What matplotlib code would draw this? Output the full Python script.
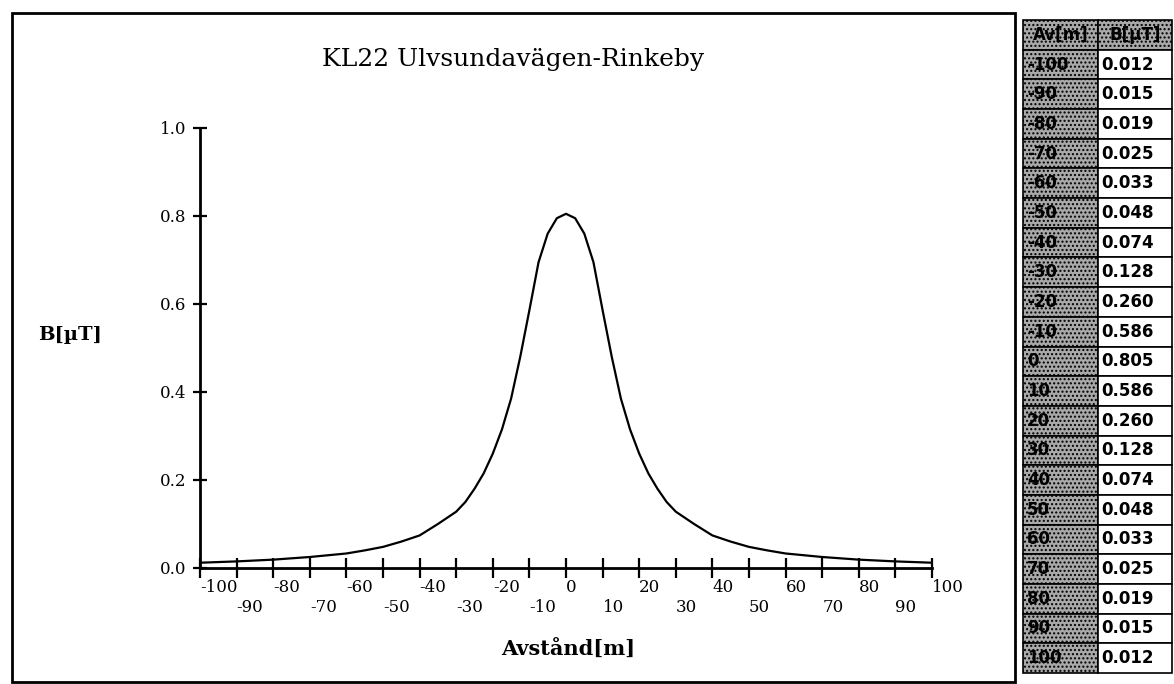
import numpy as np
import matplotlib
matplotlib.use("Agg")
import matplotlib.pyplot as plt

# table values (left panel of the picture)
dist = [-100, -90, -80, -70, -60, -50, -40, -30, -20, -10, 0,
        10, 20, 30, 40, 50, 60, 70, 80, 90, 100]
field = [0.012, 0.015, 0.019, 0.025, 0.033, 0.048, 0.074, 0.128, 0.260, 0.586, 0.805,
         0.586, 0.260, 0.128, 0.074, 0.048, 0.033, 0.025, 0.019, 0.015, 0.012]

# curve (table points plus readings in between)
curve_x = [-100, -90, -80, -70, -60, -55, -50, -45, -40, -35, -30, -27.5, -25, -22.5, -20,
           -17.5, -15, -12.5, -10, -7.5, -5, -2.5, 0, 2.5, 5, 7.5, 10, 12.5, 15, 17.5,
           20, 22.5, 25, 27.5, 30, 35, 40, 45, 50, 55, 60, 70, 80, 90, 100]
curve_b = [0.012, 0.015, 0.019, 0.025, 0.033, 0.040, 0.048, 0.060, 0.074, 0.10, 0.128, 0.15,
           0.18, 0.215, 0.260, 0.315, 0.385, 0.48, 0.586, 0.695, 0.76, 0.795, 0.805, 0.795,
           0.76, 0.695, 0.586, 0.48, 0.385, 0.315, 0.260, 0.215, 0.18, 0.15, 0.128, 0.10,
           0.074, 0.060, 0.048, 0.040, 0.033, 0.025, 0.019, 0.015, 0.012]

title = "KL22 Ulvsundavägen-Rinkeby"
W, H = 1174, 684

fig = plt.figure(figsize=(W / 100, H / 100), dpi=100)
fig.patch.set_facecolor("white")

ax = fig.add_axes([200 / W, 1 - 568 / H, 732 / W, 440 / H])
ax.plot(curve_x, curve_b, color="black", lw=1.6)
ax.set_xlim(-100, 100)
ax.set_ylim(0, 1.0)
for s in ["top", "right"]:
    ax.spines[s].set_visible(False)
for s in ["left", "bottom"]:
    ax.spines[s].set_linewidth(2)

ax.set_xticks(dist)
ax.set_xticklabels([str(v) if i % 2 == 0 else "\n" + str(v) for i, v in enumerate(dist)],
                   family="DejaVu Serif", fontsize=12, ha="left")
ax.tick_params(axis="x", direction="inout", length=14, width=1.6, pad=1)
yt = [0.0, 0.2, 0.4, 0.6, 0.8, 1.0]
ax.set_yticks(yt)
ax.set_yticklabels(["%.1f" % v for v in yt], family="DejaVu Serif", fontsize=12)
ax.tick_params(axis="y", direction="inout", length=10, width=1.6, pad=5)

ax.text(0.428, 1.155, title, transform=ax.transAxes, ha="center", va="center",
        family="DejaVu Serif", fontsize=18)
ax.text(-0.178, 0.53, "B[µT]", transform=ax.transAxes, ha="center", va="center",
        family="DejaVu Serif", fontsize=14, fontweight="bold")
ax.text(0.503, -0.186, "Avstånd[m]", transform=ax.transAxes, ha="center", va="center",
        family="DejaVu Serif", fontsize=15, fontweight="bold")

# outer frame
fig.add_artist(plt.Rectangle((12 / W, 2 / H), 1003 / W, 669 / H, transform=fig.transFigure,
                             fill=False, lw=2, color="black"))

# value table on the right
tx = fig.add_axes([1023 / W, 1 - 673 / H, 149 / W, 653 / H])
tx.axis("off")
rows = [[str(d), "%.3f" % b] for d, b in zip(dist, field)]
tbl = tx.table(cellText=rows, colLabels=["Av[m]", "B[µT]"], bbox=[0, 0, 1, 1],
               cellLoc="left", colWidths=[75 / 149, 74 / 149])
tbl.auto_set_font_size(False)
for (r, c), cell in tbl.get_celld().items():
    cell.set_edgecolor("black")
    cell.set_linewidth(1.2)
    cell.get_text().set_fontsize(12)
    cell.get_text().set_fontweight("bold")
    cell.get_text().set_family("DejaVu Sans")
    cell.PAD = 0.05
    if r == 0 or c == 0:
        cell.set_facecolor("#a9a9a9")
        cell.set_hatch("....")
    else:
        cell.set_facecolor("white")

fig.savefig("out.png", dpi=100)
